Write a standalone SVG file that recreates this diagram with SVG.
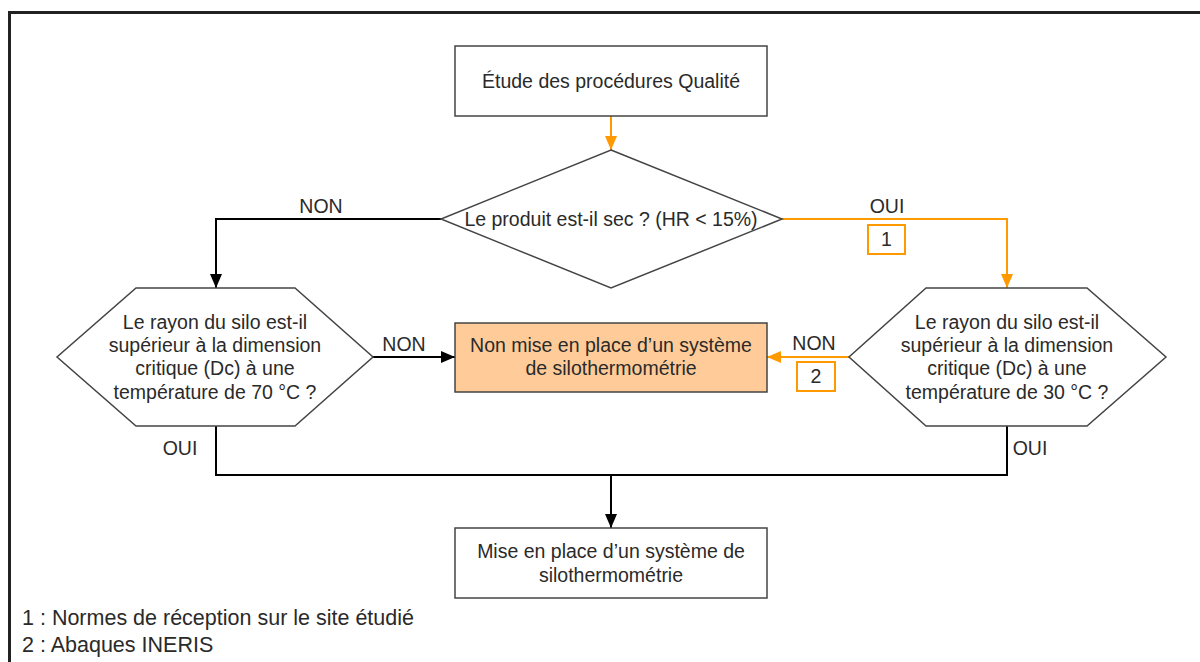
<svg xmlns="http://www.w3.org/2000/svg" width="1200" height="662" viewBox="0 0 1200 662">
<defs>
<marker id="ab" viewBox="0 0 14 12" refX="14" refY="6" markerWidth="14" markerHeight="12" markerUnits="userSpaceOnUse" orient="auto"><path d="M0,0 L14,6 L0,12 Z" fill="#000"/></marker>
<marker id="ao" viewBox="0 0 14 12" refX="14" refY="6" markerWidth="14" markerHeight="12" markerUnits="userSpaceOnUse" orient="auto"><path d="M0,0 L14,6 L0,12 Z" fill="#ff9900"/></marker>
</defs>
<style>
text{font-family:"Liberation Sans",Arial,sans-serif;font-size:19.5px;fill:#2a2a2a;}
.c{text-anchor:middle;}
.lg{font-size:21.5px;}
.node{fill:#fff;stroke:#444;stroke-width:1.5;}
.hl{fill:#ffcc99;stroke:#444;stroke-width:1.5;}
.k{fill:none;stroke:#000;stroke-width:2;}
.o{fill:none;stroke:#ff9900;stroke-width:2;}
.ob{fill:#fff;stroke:#ff9900;stroke-width:2;}
</style>
<rect width="1200" height="662" fill="#fff"/>
<path d="M9.5,662 L9.5,12.5 L1200,12.5" fill="none" stroke="#222" stroke-width="3"/>
<g id="connectors">
<path class="o" d="M611,116 L611,150" marker-end="url(#ao)"/>
<path class="k" d="M441,219 L216,219 L216,288" marker-end="url(#ab)"/>
<path class="o" d="M782,219 L1007,219 L1007,288" marker-end="url(#ao)"/>
<path class="k" d="M373,357 L455,357" marker-end="url(#ab)"/>
<path class="o" d="M849,357 L767,357" marker-end="url(#ao)"/>
<path class="k" d="M216,426 L216,475 L1007,475 L1007,426"/>
<path class="k" d="M611,475 L611,528" marker-end="url(#ab)"/>
<text class="c" x="321" y="213">NON</text>
<text class="c" x="887" y="213">OUI</text>
<rect class="ob" x="868" y="225" width="37" height="29"/>
<text class="c" x="886.5" y="246">1</text>
<text class="c" x="404" y="351">NON</text>
<text class="c" x="814" y="350">NON</text>
<rect class="ob" x="797" y="362" width="38" height="29"/>
<text class="c" x="816" y="383">2</text>
<text class="c" x="180" y="455">OUI</text>
<text class="c" x="1030" y="455">OUI</text>
</g>
<g id="n-etude">
<rect class="node" x="455" y="46" width="312" height="70"/>
<text class="c" x="611" y="88">Étude des procédures Qualité</text>
</g>
<g id="n-sec">
<polygon class="node" points="611,150 782,219 611,288 441,219"/>
<text class="c" x="611" y="226">Le produit est-il sec ? (HR &lt; 15%)</text>
</g>
<g id="n-rayon70">
<polygon class="node" points="136,288 295,288 373,357 295,426 136,426 57,357"/>
<text class="c" x="215" y="329">Le rayon du silo est-il</text>
<text class="c" x="215" y="352">supérieur à la dimension</text>
<text class="c" x="215" y="375">critique (Dc) à une</text>
<text class="c" x="215" y="399">température de 70 °C ?</text>
</g>
<g id="n-nonmise">
<rect class="hl" x="455" y="323" width="312" height="69"/>
<text class="c" x="611" y="352">Non mise en place d’un système</text>
<text class="c" x="611" y="375">de silothermométrie</text>
</g>
<g id="n-rayon30">
<polygon class="node" points="926,288 1087,288 1166,357 1087,426 926,426 849,357"/>
<text class="c" x="1007" y="329">Le rayon du silo est-il</text>
<text class="c" x="1007" y="352">supérieur à la dimension</text>
<text class="c" x="1007" y="375">critique (Dc) à une</text>
<text class="c" x="1007" y="399">température de 30 °C ?</text>
</g>
<g id="n-mise">
<rect class="node" x="455" y="528" width="312" height="70"/>
<text class="c" x="611" y="558">Mise en place d’un système de</text>
<text class="c" x="611" y="582">silothermométrie</text>
</g>
<g id="legend">
<text class="lg" x="22" y="625">1 : Normes de réception sur le site étudié</text>
<text class="lg" x="22" y="652">2 : Abaques INERIS</text>
</g>
</svg>
